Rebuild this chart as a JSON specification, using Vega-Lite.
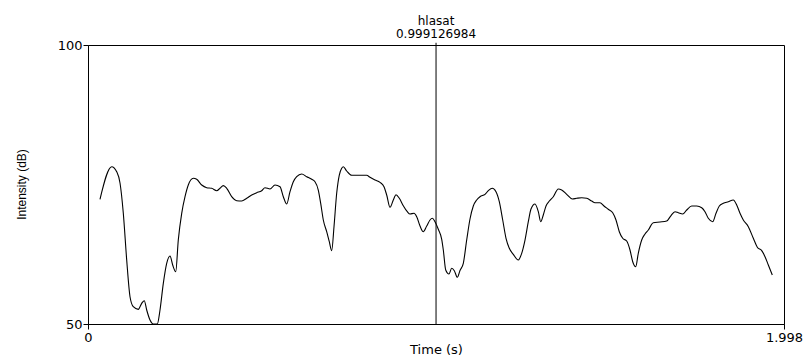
{
  "$schema": "https://vega.github.io/schema/vega-lite/v6.json",
  "autosize": {"type": "none"},
  "width": 696,
  "height": 279,
  "padding": {"left": 88, "top": 45, "right": 24, "bottom": 32},
  "background": "white",
  "config": {
    "view": {"stroke": "black", "strokeWidth": 1},
    "axis": {"grid": false, "domainColor": "black", "tickColor": "black", "labelColor": "black", "titleColor": "black", "domainWidth": 1, "tickWidth": 1}
  },
  "layer": [
    {
      "data": {"values": [
        {"t":0.0344,"db":72.35},{"t":0.0680,"db":78.19},{"t":0.0824,"db":77.29},{"t":0.0919,"db":75.27},{"t":0.1013,"db":69.89},{"t":0.1111,"db":61.47},{"t":0.1206,"db":54.89},{"t":0.1300,"db":53.10},{"t":0.1444,"db":52.63},{"t":0.1542,"db":53.71},{"t":0.1616,"db":54.18},{"t":0.1685,"db":52.51},{"t":0.1780,"db":50.72},{"t":0.1875,"db":50.0},{"t":0.1989,"db":50.0},{"t":0.2067,"db":52.51},{"t":0.2162,"db":57.29},{"t":0.2259,"db":60.88},{"t":0.2354,"db":62.19},{"t":0.2431,"db":60.57},{"t":0.2518,"db":59.37},{"t":0.2592,"db":65.05},{"t":0.2690,"db":69.84},{"t":0.2785,"db":72.81},{"t":0.2879,"db":74.91},{"t":0.3023,"db":76.11},{"t":0.3120,"db":75.93},{"t":0.3264,"db":74.91},{"t":0.3408,"db":74.43},{"t":0.3551,"db":74.32},{"t":0.3695,"db":73.89},{"t":0.3789,"db":74.32},{"t":0.3884,"db":74.79},{"t":0.3982,"db":74.32},{"t":0.4125,"db":72.81},{"t":0.4269,"db":72.10},{"t":0.4412,"db":72.04},{"t":0.4556,"db":72.53},{"t":0.4699,"db":73.12},{"t":0.4843,"db":73.53},{"t":0.4986,"db":73.89},{"t":0.5081,"db":74.43},{"t":0.5225,"db":74.19},{"t":0.5368,"db":74.91},{"t":0.5512,"db":74.61},{"t":0.5607,"db":72.81},{"t":0.5704,"db":71.51},{"t":0.5799,"db":73.71},{"t":0.5894,"db":75.50},{"t":0.5991,"db":76.40},{"t":0.6135,"db":76.88},{"t":0.6278,"db":76.40},{"t":0.6422,"db":75.93},{"t":0.6516,"db":75.50},{"t":0.6611,"db":74.01},{"t":0.6680,"db":71.63},{"t":0.6755,"db":68.64},{"t":0.6852,"db":66.54},{"t":0.6927,"db":64.75},{"t":0.6996,"db":63.14},{"t":0.7062,"db":67.44},{"t":0.7139,"db":73.42},{"t":0.7214,"db":76.70},{"t":0.7283,"db":77.90},{"t":0.7329,"db":78.19},{"t":0.7426,"db":77.42},{"t":0.7570,"db":76.65},{"t":0.7714,"db":76.65},{"t":0.7857,"db":76.65},{"t":0.8001,"db":76.65},{"t":0.8095,"db":76.29},{"t":0.8239,"db":75.81},{"t":0.8382,"db":75.39},{"t":0.8497,"db":74.61},{"t":0.8575,"db":73.12},{"t":0.8670,"db":70.91},{"t":0.8764,"db":72.22},{"t":0.8842,"db":73.17},{"t":0.8937,"db":72.53},{"t":0.9051,"db":71.20},{"t":0.9166,"db":70.13},{"t":0.9244,"db":69.71},{"t":0.9359,"db":69.84},{"t":0.9436,"db":69.23},{"t":0.9531,"db":67.56},{"t":0.9625,"db":66.54},{"t":0.9723,"db":67.56},{"t":0.9818,"db":68.64},{"t":0.9884,"db":68.94},{"t":0.9961,"db":68.33},{"t":1.0056,"db":66.97},{"t":1.0154,"db":65.18},{"t":1.0200,"db":63.26},{"t":1.0269,"db":59.68},{"t":1.0363,"db":58.96},{"t":1.0441,"db":59.98},{"t":1.0516,"db":59.55},{"t":1.0602,"db":58.37},{"t":1.0679,"db":59.59},{"t":1.0774,"db":60.88},{"t":1.0871,"db":65.05},{"t":1.0966,"db":68.82},{"t":1.1061,"db":71.15},{"t":1.1158,"db":72.22},{"t":1.1253,"db":72.81},{"t":1.1397,"db":73.24},{"t":1.1492,"db":73.89},{"t":1.1606,"db":74.32},{"t":1.1712,"db":73.71},{"t":1.1807,"db":71.92},{"t":1.1905,"db":68.64},{"t":1.2000,"db":65.36},{"t":1.2094,"db":63.57},{"t":1.2209,"db":62.49},{"t":1.2353,"db":61.47},{"t":1.2450,"db":62.67},{"t":1.2545,"db":65.05},{"t":1.2640,"db":68.33},{"t":1.2717,"db":70.61},{"t":1.2832,"db":71.51},{"t":1.2927,"db":70.13},{"t":1.2996,"db":68.33},{"t":1.3070,"db":69.53},{"t":1.3148,"db":71.15},{"t":1.3243,"db":72.04},{"t":1.3357,"db":72.81},{"t":1.3501,"db":74.19},{"t":1.3598,"db":74.01},{"t":1.3742,"db":73.24},{"t":1.3903,"db":72.40},{"t":1.4029,"db":72.53},{"t":1.4173,"db":72.63},{"t":1.4316,"db":72.53},{"t":1.4460,"db":72.04},{"t":1.4555,"db":71.74},{"t":1.4698,"db":71.74},{"t":1.4813,"db":71.15},{"t":1.4936,"db":70.56},{"t":1.5063,"db":69.95},{"t":1.5157,"db":68.64},{"t":1.5252,"db":66.54},{"t":1.5350,"db":65.36},{"t":1.5464,"db":64.87},{"t":1.5559,"db":63.26},{"t":1.5637,"db":61.16},{"t":1.5723,"db":60.27},{"t":1.5797,"db":62.67},{"t":1.5895,"db":65.05},{"t":1.5990,"db":66.13},{"t":1.6085,"db":66.85},{"t":1.6228,"db":68.15},{"t":1.6420,"db":68.28},{"t":1.6613,"db":68.46},{"t":1.6727,"db":69.35},{"t":1.6851,"db":70.13},{"t":1.6946,"db":69.95},{"t":1.7072,"db":69.71},{"t":1.7187,"db":70.43},{"t":1.7330,"db":71.15},{"t":1.7474,"db":71.15},{"t":1.7618,"db":70.84},{"t":1.7712,"db":70.13},{"t":1.7807,"db":68.94},{"t":1.7933,"db":68.33},{"t":1.8028,"db":69.84},{"t":1.8123,"db":71.15},{"t":1.8238,"db":71.63},{"t":1.8381,"db":71.92},{"t":1.8525,"db":72.22},{"t":1.8622,"db":71.33},{"t":1.8717,"db":69.84},{"t":1.8812,"db":68.64},{"t":1.8956,"db":67.44},{"t":1.9099,"db":65.36},{"t":1.9214,"db":63.75},{"t":1.9340,"db":63.14},{"t":1.9435,"db":62.06},{"t":1.9530,"db":60.57},{"t":1.9644,"db":58.78}
      ]},
      "mark": {"type": "line", "color": "black", "strokeWidth": 1.1, "interpolate": "monotone"},
      "encoding": {
        "x": {"field": "t", "type": "quantitative", "scale": {"domain": [0, 1.998], "nice": false, "zero": false},
          "axis": {"values": [0, 1.998], "labelExpr": "datum.value == 0 ? '0' : '1.998'", "tickSize": 5, "labelPadding": 2, "labelFont": "DejaVu Sans", "labelFontSize": 13, "labelOverlap": false, "labelBound": false, "labelFlush": false, "title": "Time (s)", "titleFont": "DejaVu Sans", "titleFontSize": 13, "titleFontWeight": "normal", "titleBaseline": "alphabetic", "titleY": 29}},
        "y": {"field": "db", "type": "quantitative", "scale": {"domain": [50, 100], "nice": false, "zero": false},
          "axis": {"values": [50, 100], "tickSize": 5, "labelPadding": 1, "labelFont": "DejaVu Sans", "labelFontSize": 13, "labelFlush": false, "title": "Intensity (dB)", "titleFont": "Liberation Sans", "titleFontSize": 12, "titleFontWeight": "normal", "titleBaseline": "alphabetic", "titleX": -63, "titleY": 139, "titleAngle": -90}}
      }
    },
    {
      "data": {"values": [{"t": 0.999126984, "name": "hlasat", "lo": 50, "hi": 100.4}]},
      "layer": [
        {
          "mark": {"type": "rule", "color": "black", "strokeWidth": 1},
          "encoding": {
            "x": {"field": "t", "type": "quantitative"},
            "y": {"field": "lo", "type": "quantitative"},
            "y2": {"field": "hi"}
          }
        },
        {
          "mark": {"type": "text", "font": "DejaVu Sans", "fontSize": 12, "baseline": "alphabetic", "align": "center", "dy": -18, "color": "black"},
          "encoding": {
            "x": {"field": "t", "type": "quantitative"},
            "y": {"field": "hi", "type": "quantitative"},
            "text": {"field": "name"}
          }
        },
        {
          "mark": {"type": "text", "font": "DejaVu Sans", "fontSize": 12, "baseline": "alphabetic", "align": "center", "dy": -5, "color": "black"},
          "encoding": {
            "x": {"field": "t", "type": "quantitative"},
            "y": {"field": "hi", "type": "quantitative"},
            "text": {"field": "t", "type": "quantitative", "format": ".9f"}
          }
        }
      ]
    }
  ]
}
